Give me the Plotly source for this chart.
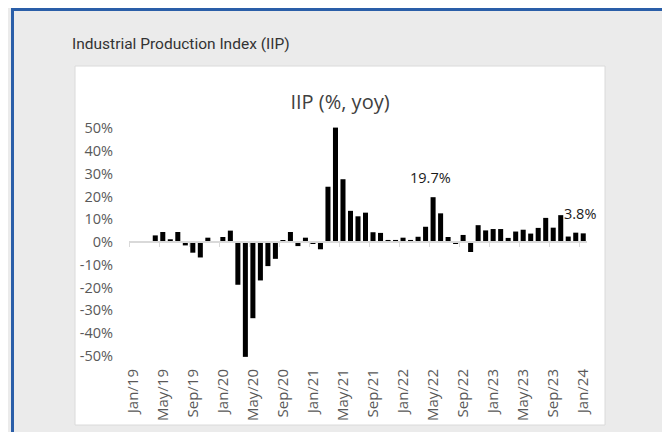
import plotly.graph_objects as go

months = [
    "Jan/19", "Feb/19", "Mar/19", "Apr/19", "May/19", "Jun/19", "Jul/19", "Aug/19", "Sep/19", "Oct/19", "Nov/19", "Dec/19",
    "Jan/20", "Feb/20", "Mar/20", "Apr/20", "May/20", "Jun/20", "Jul/20", "Aug/20", "Sep/20", "Oct/20", "Nov/20", "Dec/20",
    "Jan/21", "Feb/21", "Mar/21", "Apr/21", "May/21", "Jun/21", "Jul/21", "Aug/21", "Sep/21", "Oct/21", "Nov/21", "Dec/21",
    "Jan/22", "Feb/22", "Mar/22", "Apr/22", "May/22", "Jun/22", "Jul/22", "Aug/22", "Sep/22", "Oct/22", "Nov/22", "Dec/22",
    "Jan/23", "Feb/23", "Mar/23", "Apr/23", "May/23", "Jun/23", "Jul/23", "Aug/23", "Sep/23", "Oct/23", "Nov/23", "Dec/23",
    "Jan/24",
]
iip_yoy = [
    None, None, None, 2.9, 4.4, 1.2, 4.4, -1.5, -4.7, -6.8, 1.9, 0.4,
    2.2, 5.0, -18.8, -50.5, -33.5, -16.9, -10.6, -7.4, 0.7, 4.4, -1.8, 1.9,
    -0.6, -3.2, 24.3, 50.3, 27.6, 13.7, 11.3, 12.9, 4.3, 4.0, 0.9, 0.9,
    1.9, 0.9, 2.3, 6.7, 19.7, 12.6, 2.2, -0.6, 3.1, -4.4, 7.4, 5.1,
    5.7, 5.7, 1.8, 4.6, 5.4, 3.7, 6.2, 10.6, 6.3, 11.8, 2.4, 4.1,
    3.8,
]
tick_months = ["Jan/19", "May/19", "Sep/19", "Jan/20", "May/20", "Sep/20", "Jan/21", "May/21",
               "Sep/21", "Jan/22", "May/22", "Sep/22", "Jan/23", "May/23", "Sep/23", "Jan/24"]
labelled = ["May/22", "Jan/24"]
y_ticks = [-50, -40, -30, -20, -10, 0, 10, 20, 30, 40, 50]

W, H = 670, 432
L, R, T, B = 121, 91, 118, 82
PW, PH = W - L - R, H - T - B


def px(x):
    return (x - L) / PW


def py(y):
    return (H - B - y) / PH


n = len(months)
idx = list(range(n))

fig = go.Figure()
fig.add_trace(go.Bar(x=months, y=iip_yoy, marker=dict(color="#000000", line=dict(width=0)),
                     hoverinfo="x+y", showlegend=False))
# invisible companion trace that activates the zero-crossing tick axis (x2)
fig.add_trace(go.Scatter(x=idx, y=iip_yoy, xaxis="x2", yaxis="y", mode="markers",
                         marker=dict(opacity=0), hoverinfo="skip", showlegend=False))

for m in labelled:
    v = iip_yoy[months.index(m)]
    fig.add_annotation(x=m, y=v, text=f"{v:.1f}%", showarrow=False, yanchor="middle",
                       yshift=20, xshift=-3,
                       font=dict(family="Open Sans", size=14.5, color="#1a1a1a"))

boundaries = [i - 0.5 for i in range(0, n, 4)]

fig.update_layout(
    width=W, height=H,
    margin=dict(l=L, r=R, t=T, b=B),
    paper_bgcolor="#EBEBEB",
    plot_bgcolor="rgba(0,0,0,0)",
    bargap=0.33,
    title=dict(text="IIP (%, yoy)", x=332 / W, xanchor="center", xref="container",
               y=1 - 94 / H, yanchor="middle", yref="container",
               font=dict(family="Open Sans", size=20, color="#404040")),
    xaxis=dict(type="category", categoryorder="array", categoryarray=months,
               tickmode="array", tickvals=tick_months, ticktext=tick_months,
               tickangle=-90, showline=False, showgrid=False, zeroline=False, ticks="",
               ticklabelstandoff=7,
               tickfont=dict(family="Open Sans", size=15, color="#595959"),
               range=[-0.5, n - 0.5]),
    xaxis2=dict(overlaying="x", anchor="free", position=0.5, side="bottom", type="linear",
                range=[-0.5, n - 0.5], showline=True, linecolor="#D9D9D9", linewidth=1.5,
                ticks="outside", ticklen=4, tickcolor="#D9D9D9", tickwidth=1.2,
                tickmode="array", tickvals=boundaries, showticklabels=False,
                showgrid=False, zeroline=False, fixedrange=True),
    yaxis=dict(range=[-51, 51], tickmode="array", tickvals=y_ticks,
               ticktext=[f"{v}%" for v in y_ticks], showgrid=False, zeroline=False,
               showline=False, ticks="", ticklabelstandoff=15,
               tickfont=dict(family="Open Sans", size=14.5, color="#595959")),
    shapes=[
        dict(type="rect", xref="paper", yref="paper", x0=px(67), x1=px(597), y0=py(417), y1=py(58),
             fillcolor="#FFFFFF", line=dict(color="#DADADA", width=1), layer="below"),
        dict(type="line", xref="paper", yref="paper", x0=px(4.5), x1=px(4.5), y0=py(0), y1=py(H + 2),
             line=dict(color="#2A5EA8", width=3)),
        dict(type="line", xref="paper", yref="paper", x0=px(3), x1=px(W + 2), y0=py(1.5), y1=py(1.5),
             line=dict(color="#2A5EA8", width=3)),
    ],
    annotations=list(fig.layout.annotations) + [
        dict(text="Industrial Production Index (IIP)", xref="paper", yref="paper",
             x=px(62), y=py(36), xanchor="left", yanchor="middle", showarrow=False,
             font=dict(family="Roboto", size=15.5, color="#333333")),
    ],
)

fig.write_html("out.html")
